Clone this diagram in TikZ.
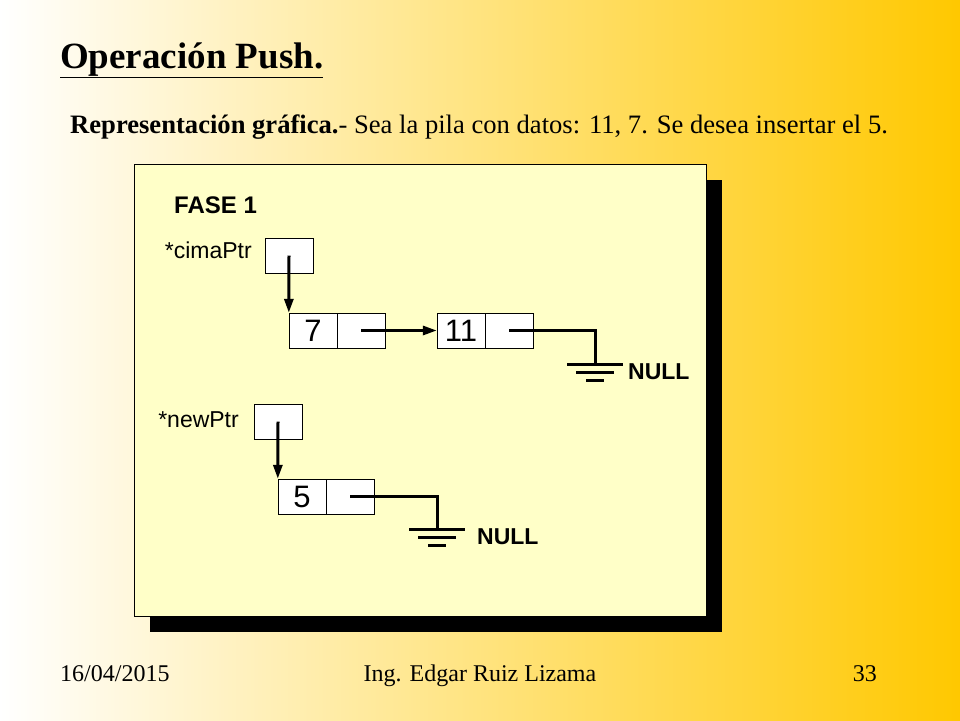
\documentclass[tikz,border=0pt]{standalone}
\usepackage{fontspec}
\setmainfont{Liberation Serif}
\setsansfont{Liberation Sans}
\usetikzlibrary{positioning,arrows.meta}
\definecolor{slideyellow}{HTML}{FFC800}
\definecolor{panelyellow}{HTML}{FFFFC8}
\tikzset{
  cell/.style={draw, thin, fill=white, minimum width=48pt, minimum height=35pt, inner sep=0pt, font=\sffamily\fontsize{31}{31}\selectfont},
  ptr/.style={-{Triangle[length=14pt,width=9pt]}, line width=3pt},
  wire/.style={line width=3pt},
  lbl/.style={font=\sffamily\fontsize{23}{23}\selectfont, inner sep=0pt},
  nulltxt/.style={font=\sffamily\bfseries\fontsize{23}{23}\selectfont, inner sep=0pt, anchor=west}
}
\newcommand{\groundat}[1]{%
  \draw[wire] ([xshift=-28pt]#1) -- ([xshift=28pt]#1);
  \draw[wire] ([xshift=-19pt,yshift=-8pt]#1) -- ([xshift=19pt,yshift=-8pt]#1);
  \draw[wire] ([xshift=-9pt,yshift=-16pt]#1) -- ([xshift=9pt,yshift=-16pt]#1);}
\begin{document}
\begin{tikzpicture}[x=1pt,y=-1pt]
  \shade[left color=white, right color=slideyellow] (0,0) rectangle (960,720);
  \useasboundingbox (0,0) rectangle (960,720);

  % title and subtitle
  \node[anchor=base west, inner sep=0pt, font=\bfseries\fontsize{37}{37}\selectfont] (title) at (60,68) {\underline{Operación Push.}};
  \node[anchor=base west, inner sep=0pt, font=\fontsize{26.6}{26.6}\selectfont] (sub) at (70,133) {\textbf{Representación gráfica.}- Sea la pila con datos: 11, 7. Se desea insertar el 5.};

  % panel
  \fill[black] (150,180) rectangle (722,632);
  \draw[thin, fill=panelyellow] (134,164) rectangle (706,616);
  \node[anchor=west, inner sep=0pt, font=\sffamily\bfseries\fontsize{24}{24}\selectfont] (fase) at (174,205) {FASE 1};

  % stack
  \node[lbl, anchor=east] (cimalbl) at (252,250) {*cimaPtr};
  \node[cell] (cima) at (289,255.5) {};
  \node[cell] (n7) at (313,330.5) {7};
  \node[cell, anchor=west] (n7p) at (n7.east) {};
  \node[cell] (n11) at (461,330.5) {11};
  \node[cell, anchor=west] (n11p) at (n11.east) {};
  \coordinate (g1) at (595,364);
  \node[nulltxt] (null1) at (628,372) {NULL};

  \draw[ptr] (cima.center) -- (n7.north west);
  \draw[ptr] (n7p.center) -- (n11.west);
  \draw[wire] (n11p.center) -| (g1);
  \groundat{g1}

  % new node
  \node[lbl, anchor=east] (newlbl) at (239,420) {*newPtr};
  \node[cell] (newp) at (278,421.5) {};
  \node[cell] (n5) at (302,496.5) {5};
  \node[cell, anchor=west] (n5p) at (n5.east) {};
  \coordinate (g2) at (437,529);
  \node[nulltxt] (null2) at (477,537) {NULL};

  \draw[ptr] (newp.center) -- (n5.north west);
  \draw[wire] (n5p.center) -| (g2);
  \groundat{g2}

  % footer
  \node[anchor=base west, inner sep=0pt, font=\fontsize{24}{24}\selectfont] (date) at (60,681) {16/04/2015};
  \node[anchor=base, inner sep=0pt, font=\fontsize{24}{24}\selectfont] (author) at (480,681) {Ing. Edgar Ruiz Lizama};
  \node[anchor=base east, inner sep=0pt, font=\fontsize{24}{24}\selectfont] (page) at (877,681) {33};
\end{tikzpicture}
\end{document}
